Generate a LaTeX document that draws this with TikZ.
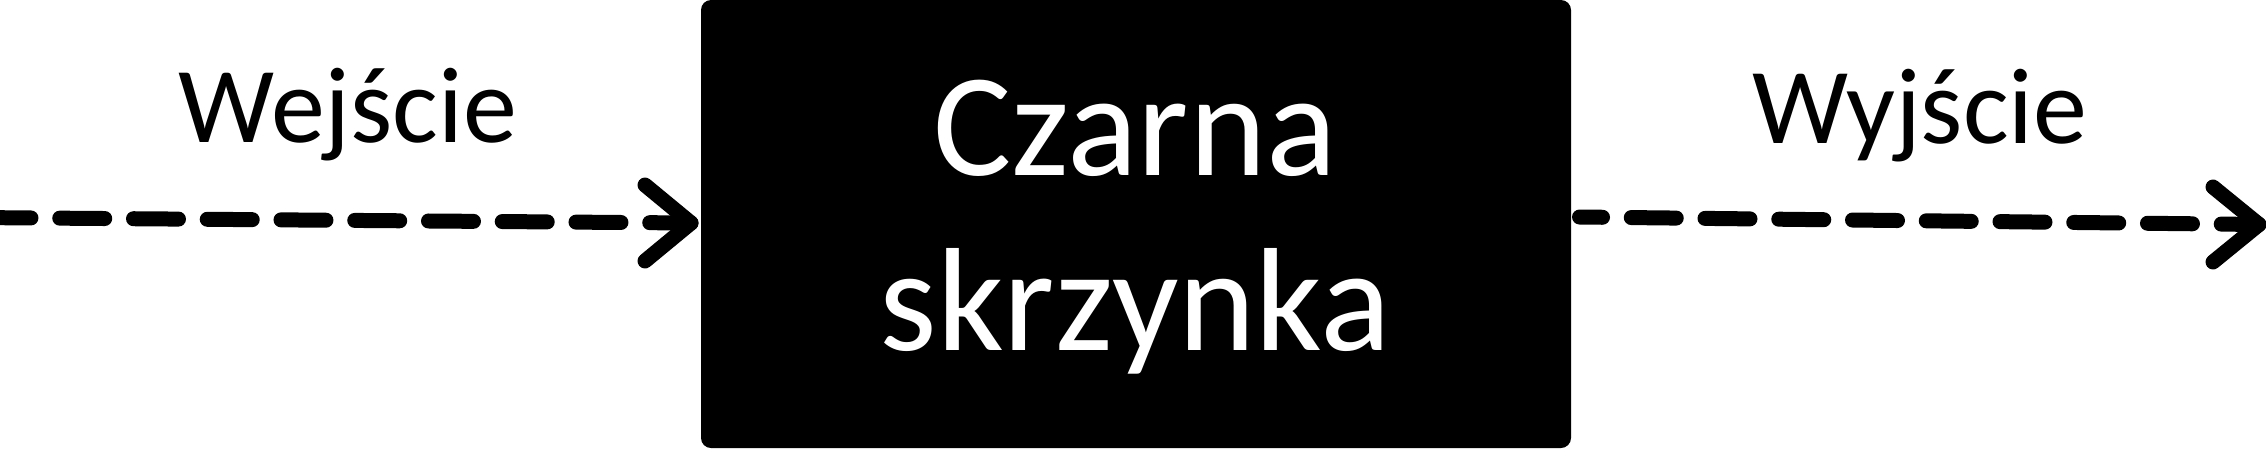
\documentclass[tikz,border=0pt]{standalone}
\usepackage{fontspec}
\setmainfont{Carlito}
\usetikzlibrary{calc}
\begin{document}
\begin{tikzpicture}[x=1pt,y=-1pt,
  flow/.style={line width=15pt, line cap=round, dash pattern=on 45pt off 28.75pt},
  head/.style={line width=15pt, line cap=round, line join=round},
  blackbox/.style={fill=black, draw=none, rounded corners=10pt, minimum width=870pt, minimum height=448pt, inner sep=0pt, outer sep=0pt},
  boxtext/.style={text=white, font=\fontsize{147}{175}\selectfont, inner sep=0pt, anchor=base},
  iolabel/.style={text=black, font=\fontsize{108}{130}\selectfont, inner sep=0pt, anchor=base}]
\useasboundingbox (0,0) rectangle (2266,448);
\node[blackbox] (box) at (1136,224) {};
\node[boxtext] (czarna) at (1135,175) {Czarna};
\node[boxtext] (skrzynka) at (1135,350) {skrzynka};
\node[iolabel] (wejscie) at (348,142) {Wejście};
\node[iolabel] (wyjscie) at (1920,143) {Wyjście};
% input arrow
\coordinate (inStart) at (-14,217.6);
\coordinate (inTip) at (691,223);
\draw[flow] (inStart) -- (inTip);
\draw[head] ($(inTip)+(-46,-38)$) -- (inTip) -- ($(inTip)+(-46,38)$);
% output arrow
\coordinate (outStart) at (1579.5,217);
\coordinate (outTip) at (2259,224.5);
\draw[flow, dash phase=22pt] (outStart) -- (outTip);
\draw[head] ($(outTip)+(-46,-37.5)$) -- (outTip) -- ($(outTip)+(-46,37.5)$);
\end{tikzpicture}
\end{document}
